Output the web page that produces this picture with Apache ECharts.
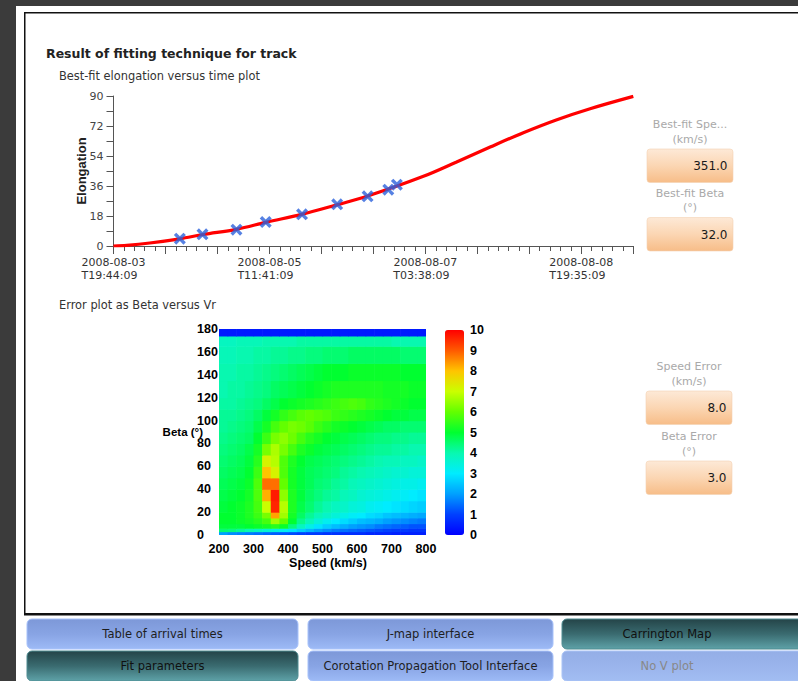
<!DOCTYPE html>
<html>
<head>
<meta charset="utf-8">
<script src="https://cdn.jsdelivr.net/npm/echarts@6/dist/echarts.min.js"></script>
<style>
  html, body { margin: 0; padding: 0; background: #3b3b3b; }
  #main { width: 798px; height: 681px; }
</style>
</head>
<body>
<div id="main"></div>
<script>
// ---- Best-fit elongation versus time (hours after 2008-08-03T19:44:09) ----
const timeStep = 799 / 60;            // 13h19m between axis ticks
const timeTickLabels = [
  '2008-08-03\nT19:44:09',
  '2008-08-05\nT11:41:09',
  '2008-08-07\nT03:38:09',
  '2008-08-08\nT19:35:09'
];
const elongationTicks = [0, 18, 36, 54, 72, 90];

const fitHours      = [0, 3.4, 9.3, 17.0, 23.0, 31.5, 39.2, 48.2, 57.2, 65.3, 79.4, 87.9, 96.5, 105.0, 113.6, 122.1, 133.17];
const fitElongation = [0, 0.4, 1.8, 4.3, 6.9, 10.0, 14.3, 19.0, 24.7, 30.1, 41.8, 50.4, 59.4, 68.0, 75.8, 82.4, 89.8];

const obsHours      = [17.0, 22.8, 31.5, 39.0, 48.3, 57.3, 65.1, 70.4, 72.6];
const obsElongation = [4.4, 7.0, 9.8, 14.4, 19.0, 25.0, 29.8, 33.8, 36.8];

// ---- Error plot: Beta (deg) versus speed (km/s) ----
const speedEdges = [200, 225, 250, 275, 300, 325, 350, 375, 400, 425, 450, 475, 500,
                    525, 550, 575, 600, 625, 650, 675, 700, 725, 750, 775, 800];
const betaEdges  = [0, 3, 6, 10, 15, 20, 30, 40, 50, 60, 70, 80, 90, 100, 110, 120, 135, 150, 165, 174, 180];
const speedTicks = [200, 300, 400, 500, 600, 700, 800];
const betaTicks  = [0, 20, 40, 60, 80, 100, 120, 140, 160, 180];
const errorTicks = [0, 1, 2, 3, 4, 5, 6, 7, 8, 9, 10];

// one row per beta band, bottom to top; one column per speed band
const errorGrid = [
  [2.0,1.8,1.7,1.6,1.5,1.4,1.3,1.2,1.1,1.0,0.9,0.9,0.8,0.8,0.7,0.7,0.7,0.6,0.6,0.6,0.5,0.5,0.5,0.5],
  [4.5,4.4,4.2,4.0,3.8,3.6,3.4,3.2,2.9,2.6,2.3,2.0,1.8,1.6,1.5,1.4,1.3,1.2,1.1,1.0,0.9,0.9,0.8,0.8],
  [4.9,4.9,4.9,5.0,5.1,5.2,5.4,5.1,4.4,3.8,3.3,2.9,2.6,2.4,2.2,2.0,1.9,1.8,1.6,1.5,1.4,1.3,1.2,1.2],
  [5.0,5.0,5.1,5.2,5.4,5.7,6.6,6.0,5.0,4.3,3.9,3.5,3.2,3.0,2.8,2.6,2.4,2.3,2.2,2.0,1.9,1.8,1.7,1.6],
  [5.0,5.0,5.1,5.3,5.6,6.2,8.3,6.6,5.2,4.6,4.2,3.9,3.7,3.5,3.3,3.1,3.0,2.8,2.7,2.5,2.4,2.3,2.2,2.1],
  [4.9,5.0,5.1,5.3,5.7,7.0,9.6,6.8,5.3,4.8,4.5,4.2,4.0,3.8,3.7,3.5,3.4,3.2,3.1,3.0,2.9,2.8,2.7,2.6],
  [4.8,4.9,5.0,5.2,5.8,8.2,9.7,6.4,5.3,4.9,4.6,4.4,4.2,4.1,3.9,3.8,3.6,3.5,3.4,3.3,3.2,3.1,3.0,2.9],
  [4.7,4.8,4.9,5.1,5.8,8.8,8.8,6.0,5.2,4.9,4.7,4.5,4.4,4.2,4.1,3.9,3.8,3.7,3.6,3.5,3.4,3.3,3.3,3.2],
  [4.6,4.7,4.8,5.0,5.6,8.0,7.2,5.8,5.2,4.9,4.7,4.6,4.5,4.4,4.2,4.1,4.0,3.9,3.8,3.7,3.6,3.6,3.5,3.5],
  [4.5,4.6,4.7,4.9,5.4,7.2,6.8,5.8,5.3,5.0,4.8,4.7,4.6,4.5,4.4,4.3,4.2,4.1,4.0,3.9,3.9,3.8,3.8,3.7],
  [4.4,4.5,4.6,4.8,5.2,6.2,6.7,6.2,5.7,5.3,5.1,4.9,4.8,4.7,4.6,4.5,4.4,4.3,4.2,4.2,4.1,4.1,4.0,4.0],
  [4.3,4.4,4.5,4.6,5.0,5.6,6.2,6.4,6.1,5.7,5.4,5.2,5.0,4.9,4.8,4.7,4.6,4.5,4.4,4.4,4.3,4.3,4.2,4.2],
  [4.2,4.3,4.4,4.5,4.8,5.2,5.7,6.0,6.2,6.1,5.9,5.6,5.4,5.2,5.1,5.0,4.9,4.8,4.7,4.6,4.6,4.5,4.5,4.5],
  [4.2,4.2,4.3,4.4,4.6,4.9,5.2,5.5,5.7,5.9,6.0,5.9,5.8,5.6,5.5,5.4,5.3,5.2,5.1,5.0,4.9,4.9,4.8,4.8],
  [4.1,4.1,4.2,4.3,4.4,4.6,4.8,5.0,5.1,5.2,5.3,5.4,5.5,5.6,5.7,5.8,5.7,5.5,5.4,5.3,5.2,5.1,5.0,5.0],
  [4.0,4.1,4.1,4.2,4.3,4.4,4.6,4.7,4.8,4.9,5.0,5.1,5.2,5.3,5.3,5.3,5.3,5.3,5.3,5.2,5.2,5.2,5.1,5.1],
  [4.0,4.0,4.1,4.1,4.2,4.3,4.4,4.5,4.6,4.7,4.8,4.9,5.0,5.0,5.0,5.1,5.1,5.1,5.1,5.1,5.1,5.0,5.0,5.0],
  [3.9,3.9,4.0,4.0,4.1,4.1,4.2,4.2,4.3,4.3,4.4,4.4,4.5,4.5,4.5,4.6,4.6,4.6,4.6,4.6,4.6,4.5,4.5,4.5],
  [3.8,3.8,3.9,3.9,3.9,4.0,4.0,4.0,4.0,4.1,4.1,4.1,4.1,4.1,4.1,4.1,4.1,4.1,4.1,4.1,4.0,4.0,4.0,4.0],
  [0.4,0.4,0.4,0.4,0.4,0.4,0.4,0.4,0.4,0.4,0.4,0.4,0.4,0.4,0.4,0.4,0.4,0.4,0.4,0.4,0.4,0.4,0.4,0.4]
];

// ---- Fit results shown beside the plots ----
const resultFields = [
  { label: 'Best-fit Spe...', unit: '(km/s)', value: '351.0' },
  { label: 'Best-fit Beta',   unit: '(°)',    value: '32.0' },
  { label: 'Speed Error',     unit: '(km/s)', value: '8.0' },
  { label: 'Beta Error',      unit: '(°)',    value: '3.0' }
];

const buttonRows = [
  ['Table of arrival times', 'J-map interface', 'Carrington Map'],
  ['Fit parameters', 'Corotation Propagation Tool Interface', 'No V plot']
];
const buttonKinds = [
  ['blue', 'blue', 'teal'],
  ['teal', 'blue', 'off']
];

// ---------------------------------------------------------------------------
const UI_FONT = 'DejaVu Sans';
const PLOT_FONT = 'Liberation Sans';

const fitLine = fitHours.map((h, i) => [h, fitElongation[i]]);
const obsPoints = obsHours.map((h, i) => [h, obsElongation[i]]);

const heatCells = [];
errorGrid.forEach((row, i) => {
  row.forEach((v, j) => {
    heatCells.push([speedEdges[j], speedEdges[j + 1], betaEdges[i], betaEdges[i + 1], v]);
  });
});

const heatColors = ['#0000ff', '#0040ff', '#00a0ff', '#00ecff', '#08f8b0', '#00ff30',
                    '#62ff00', '#caff00', '#ffc400', '#ff5a00', '#ff0000'];

function grad(stops) {
  return { type: 'linear', x: 0, y: 0, x2: 0, y2: 1,
    colorStops: stops.map((c, i) => ({ offset: i / (stops.length - 1), color: c })) };
}

const graphics = [];
// window panel and frame
graphics.push({ type: 'rect', z: -20, silent: true, shape: { x: 16, y: 6, width: 790, height: 680 }, style: { fill: '#ffffff' } });
graphics.push({ type: 'rect', z: -19, silent: true, shape: { x: 24, y: 12, width: 780, height: 1.5 }, style: { fill: '#111' } });
graphics.push({ type: 'rect', z: -19, silent: true, shape: { x: 24, y: 12, width: 1.5, height: 603 }, style: { fill: '#111' } });
graphics.push({ type: 'rect', z: -19, silent: true, shape: { x: 24, y: 613, width: 780, height: 2.5 }, style: { fill: '#111' } });

// headings
function addText(text, x, y, opts) {
  graphics.push(Object.assign({ type: 'text', z: 10, silent: true, x: x, y: y,
    style: Object.assign({ text: text, fontFamily: UI_FONT, fontSize: 11.5, fill: '#333',
      align: 'left', verticalAlign: 'middle' }, opts || {}) }));
}
addText('Result of fitting technique for track', 46, 53, { fontSize: 12.5, fontWeight: 'bold', fill: '#222' });
addText('Best-fit elongation versus time plot', 59, 75.5, { fontSize: 11.4 });
addText('Error plot as Beta versus Vr', 59, 305, { fontSize: 11.4 });

// result boxes
const fieldY = [124.5, 193, 366.5, 436.5];
resultFields.forEach((f, i) => {
  const cx = i < 2 ? 690 : 689;
  const y = fieldY[i];
  addText(f.label, cx, y, { align: 'center', fill: '#a9a9a9', fontSize: 11 });
  addText(f.unit, cx, y + 14.5, { align: 'center', fill: '#a9a9a9', fontSize: 11 });
  const bx = i < 2 ? 647 : 646;
  const by = y + 24.5;
  graphics.push({ type: 'rect', z: 5, silent: true,
    shape: { x: bx, y: by, width: 86, height: 33.5, r: 3 },
    style: { fill: grad(['#fde9d7', '#fbd6b3', '#f7bd88']), stroke: '#f3d2b4', lineWidth: 0.6 } });
  addText(f.value, bx + 80.5, by + 17, { align: 'right', fill: '#1a1a1a', fontSize: 12 });
});

// buttons
const colX = [27, 308, 562];
const colW = [271, 245, 245];
const rowY = [619, 651];
const kindStyle = {
  blue: { fill: grad(['#7d98d8', '#88a4e4', '#9dbaf6']), stroke: '#a7c2fb', text: '#1e1e1e' },
  teal: { fill: grad(['#244448', '#3a6b70', '#5ea2a8']), stroke: '#4f8c92', text: '#101010' },
  off:  { fill: grad(['#94aee6', '#9ab4ec', '#a2bdf2']), stroke: '#a9c3f6', text: '#888888' }
};
buttonRows.forEach((row, r) => {
  row.forEach((label, c) => {
    const st = kindStyle[buttonKinds[r][c]];
    graphics.push({ type: 'rect', z: 5, silent: true,
      shape: { x: colX[c], y: rowY[r], width: colW[c], height: 30, r: 5 },
      style: { fill: st.fill, stroke: st.stroke, lineWidth: 1 } });
    addText(label, colX[c] + (c === 2 ? 105 : colW[c] / 2), rowY[r] + 15,
      { align: 'center', fill: st.text, fontSize: 11.5 });
  });
});

const axisGray = '#555555';
const boldLabel = { fontFamily: PLOT_FONT, fontWeight: 'bold', fontSize: 12.5, color: '#000' };

const option = {
  backgroundColor: '#3b3b3b',
  animation: false,
  textStyle: { fontFamily: UI_FONT },
  grid: [
    { left: 113.5, top: 96, width: 519.8, height: 150, outerBoundsMode: 'none' },
    { left: 219, top: 329, width: 207, height: 206, outerBoundsMode: 'none' },
    { left: 445, top: 330, width: 19, height: 205, outerBoundsMode: 'none' }
  ],
  xAxis: [
    {
      gridIndex: 0, type: 'value', min: 0, max: 10 * timeStep, interval: timeStep,
      axisLine: { lineStyle: { color: axisGray, width: 1 } },
      axisTick: { length: 8, lineStyle: { color: axisGray } },
      minorTick: { show: true, splitNumber: 5, length: 5, lineStyle: { color: axisGray } },
      splitLine: { show: false },
      axisLabel: {
        margin: 10, showMinLabel: true, showMaxLabel: true,
        formatter: function (v) {
          const idx = Math.round(v / timeStep);
          if (idx % 3 !== 0) return '';
          const parts = timeTickLabels[idx / 3].split('\n');
          return '{d|' + parts[0] + '}\n{t|' + parts[1] + '}';
        },
        rich: {
          d: { fontFamily: UI_FONT, fontSize: 11, color: '#333', lineHeight: 13 },
          t: { fontFamily: UI_FONT, fontSize: 11, color: '#333', lineHeight: 13, padding: [0, 8, 0, 0] }
        }
      }
    },
    {
      gridIndex: 1, type: 'value', min: 200, max: 800, interval: 100,
      axisLine: { show: false }, axisTick: { show: false }, splitLine: { show: false },
      axisLabel: Object.assign({ margin: 7, showMinLabel: true, showMaxLabel: true }, boldLabel),
      name: 'Speed (km/s)', nameLocation: 'middle', nameGap: 21, nameMoveOverlap: false,
      nameTextStyle: Object.assign({ padding: [0, 0, 0, 11] }, boldLabel)
    },
    { gridIndex: 2, type: 'value', min: 0, max: 1, show: false }
  ],
  yAxis: [
    {
      gridIndex: 0, type: 'value', min: 0, max: 90, interval: 18,
      axisLine: { show: true, lineStyle: { color: axisGray, width: 1 } },
      axisTick: { show: true, length: 7, lineStyle: { color: axisGray } },
      minorTick: { show: true, splitNumber: 2, length: 7, lineStyle: { color: axisGray } },
      splitLine: { show: false },
      axisLabel: { margin: 10, fontFamily: UI_FONT, fontSize: 11, color: '#444',
        formatter: v => (elongationTicks.indexOf(v) >= 0 ? String(v) : '') },
      name: 'Elongation', nameLocation: 'middle', nameGap: 25.5, nameMoveOverlap: false,
      nameTextStyle: { fontFamily: PLOT_FONT, fontWeight: 'bold', fontSize: 13, color: '#222' }
    },
    {
      gridIndex: 1, type: 'value', min: 0, max: 180, interval: 20,
      axisLine: { show: false }, axisTick: { show: false }, splitLine: { show: false },
      axisLabel: Object.assign({ margin: 22, align: 'left', showMinLabel: true, showMaxLabel: true }, boldLabel),
      name: 'Beta (°)', nameLocation: 'middle', nameRotate: 0, nameGap: 16, nameMoveOverlap: false,
      nameTextStyle: Object.assign({}, boldLabel, { fontSize: 11.5, padding: [2, 0, 0, 0] })
    },
    {
      gridIndex: 2, type: 'value', position: 'right', min: 0, max: 10, interval: 1,
      axisLine: { show: false }, axisTick: { show: false }, splitLine: { show: false },
      axisLabel: Object.assign({ margin: 6, showMinLabel: true, showMaxLabel: true,
        formatter: v => (errorTicks.indexOf(v) >= 0 ? String(v) : '') }, boldLabel)
    }
  ],
  visualMap: {
    type: 'continuous', min: 0, max: 10, dimension: 4, seriesIndex: 2,
    inRange: { color: heatColors },
    left: 445, top: 330, itemWidth: 19, itemHeight: 205, padding: 0,
    calculable: false, realtime: false, orient: 'vertical', showLabel: false
  },
  series: [
    {
      type: 'line', xAxisIndex: 0, yAxisIndex: 0, data: fitLine, smooth: 0.35,
      showSymbol: false, silent: true, z: 3,
      lineStyle: { color: '#ff0000', width: 3.2 }
    },
    {
      type: 'scatter', xAxisIndex: 0, yAxisIndex: 0, data: obsPoints, z: 4, silent: true,
      symbol: 'path://M2,0 L5,3 L8,0 L10,2 L7,5 L10,8 L8,10 L5,7 L2,10 L0,8 L3,5 L0,2 Z',
      symbolSize: 12, itemStyle: { color: '#2c62dc' }
    },
    {
      type: 'custom', xAxisIndex: 1, yAxisIndex: 1, data: heatCells, silent: true, clip: true,
      encode: { x: [0, 1], y: [2, 3] },
      renderItem: function (params, api) {
        const a = api.coord([api.value(0), api.value(3)]);
        const b = api.coord([api.value(1), api.value(2)]);
        return {
          type: 'rect',
          shape: { x: a[0], y: a[1], width: b[0] - a[0] + 0.6, height: b[1] - a[1] + 0.6 },
          style: { fill: api.visual('color') }
        };
      }
    }
  ],
  graphic: { elements: graphics }
};

const chart = echarts.init(document.getElementById('main'), null, { renderer: 'svg', width: 798, height: 681 });
chart.setOption(option);
</script>
</body>
</html>
